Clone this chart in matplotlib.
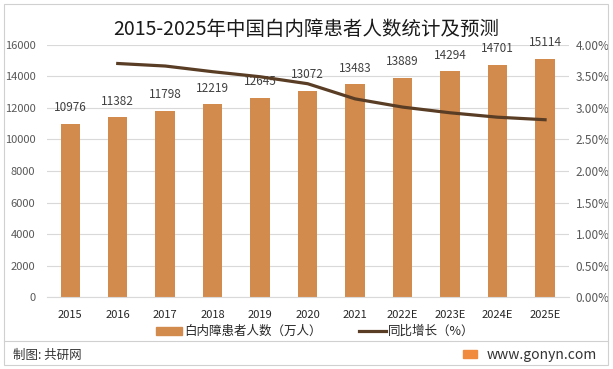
import matplotlib.pyplot as plt
import numpy as np
from matplotlib.lines import Line2D
from matplotlib.patches import Patch, Rectangle

plt.rcParams["font.family"] = ["Noto Sans CJK SC", "DejaVu Sans"]

years = ["2015", "2016", "2017", "2018", "2019", "2020", "2021",
         "2022E", "2023E", "2024E", "2025E"]
patients = [10976, 11382, 11798, 12219, 12645, 13072, 13483,
            13889, 14294, 14701, 15114]
growth = [np.nan, 3.70, 3.66, 3.57, 3.49, 3.38, 3.14, 3.01, 2.92, 2.85, 2.81]

bar_color = "#D38B4D"
line_color = "#5A3D25"

fig = plt.figure(figsize=(6.13, 3.69), dpi=100)
ax = fig.add_axes([0.0759, 0.1943, 0.852, 0.685])
ax2 = ax.twinx()

x = np.arange(len(years))
ax.bar(x, patients, width=0.41, color=bar_color, zorder=2)
for xi, v in zip(x, patients):
    ax.annotate(str(v), (xi, v), xytext=(0, 7), textcoords="offset points",
                ha="center", va="bottom", fontsize=8.5, color="#404040")

ax2.plot(x, growth, color=line_color, linewidth=2.3, zorder=3)

ax.set_xlim(-0.5, len(years) - 0.5)
ax.set_ylim(0, 16000)
ax.set_yticks(np.arange(0, 16001, 2000))
ax2.set_ylim(0, 4)
ax2.set_yticks(np.arange(0, 4.01, 0.5))
ax2.set_yticklabels([f"{t:.2f}%" for t in np.arange(0, 4.01, 0.5)])

ax.set_xticks(x)
ax.set_xticklabels(years)
ax.grid(axis="y", color="#D9D9D9", linewidth=0.8, zorder=0)
ax.set_axisbelow(True)
for a in (ax, ax2):
    for s in a.spines.values():
        s.set_visible(False)
    a.tick_params(length=0, labelsize=8.5, labelcolor="#595959")
ax.tick_params(axis="y", labelsize=8, pad=8)
ax2.tick_params(axis="y", pad=5)
ax.tick_params(axis="x", labelsize=8, labelcolor="#262626", pad=9)
ax.spines["bottom"].set_visible(True)
ax.spines["bottom"].set_color("#D9D9D9")

fig.text(0.5, 0.919, "2015-2025年中国白内障患者人数统计及预测", ha="center", va="center",
         fontsize=14, fontweight="light", color="#1A1A1A")

handles = [Patch(color=bar_color), Line2D([0], [0], color=line_color, linewidth=2.3)]
fig.legend(handles, ["白内障患者人数（万人）", "同比增长（%）"], loc="center",
           bbox_to_anchor=(0.514, 0.101), ncol=2, frameon=False, fontsize=9,
           handlelength=2.1, handleheight=0.6, handletextpad=0.2, columnspacing=3.0,
           labelcolor="#262626")

fig.add_artist(Line2D([0.007, 0.992], [0.076, 0.076], color="#D0D0D0", linewidth=0.8))
fig.text(0.021, 0.038, "制图: 共研网", ha="left", va="center", fontsize=9, color="#333333")
fig.add_artist(Rectangle((0.755, 0.03), 0.023, 0.022, color="#F08A3C", transform=fig.transFigure))
fig.text(0.973, 0.038, "www.gonyn.com", ha="right", va="center", fontsize=10, color="#333333")
fig.add_artist(Rectangle((0.007, 0.011), 0.985, 0.978, fill=False, edgecolor="#D0D0D0",
                         linewidth=0.8, transform=fig.transFigure))

fig.savefig("out.png", dpi=100)
